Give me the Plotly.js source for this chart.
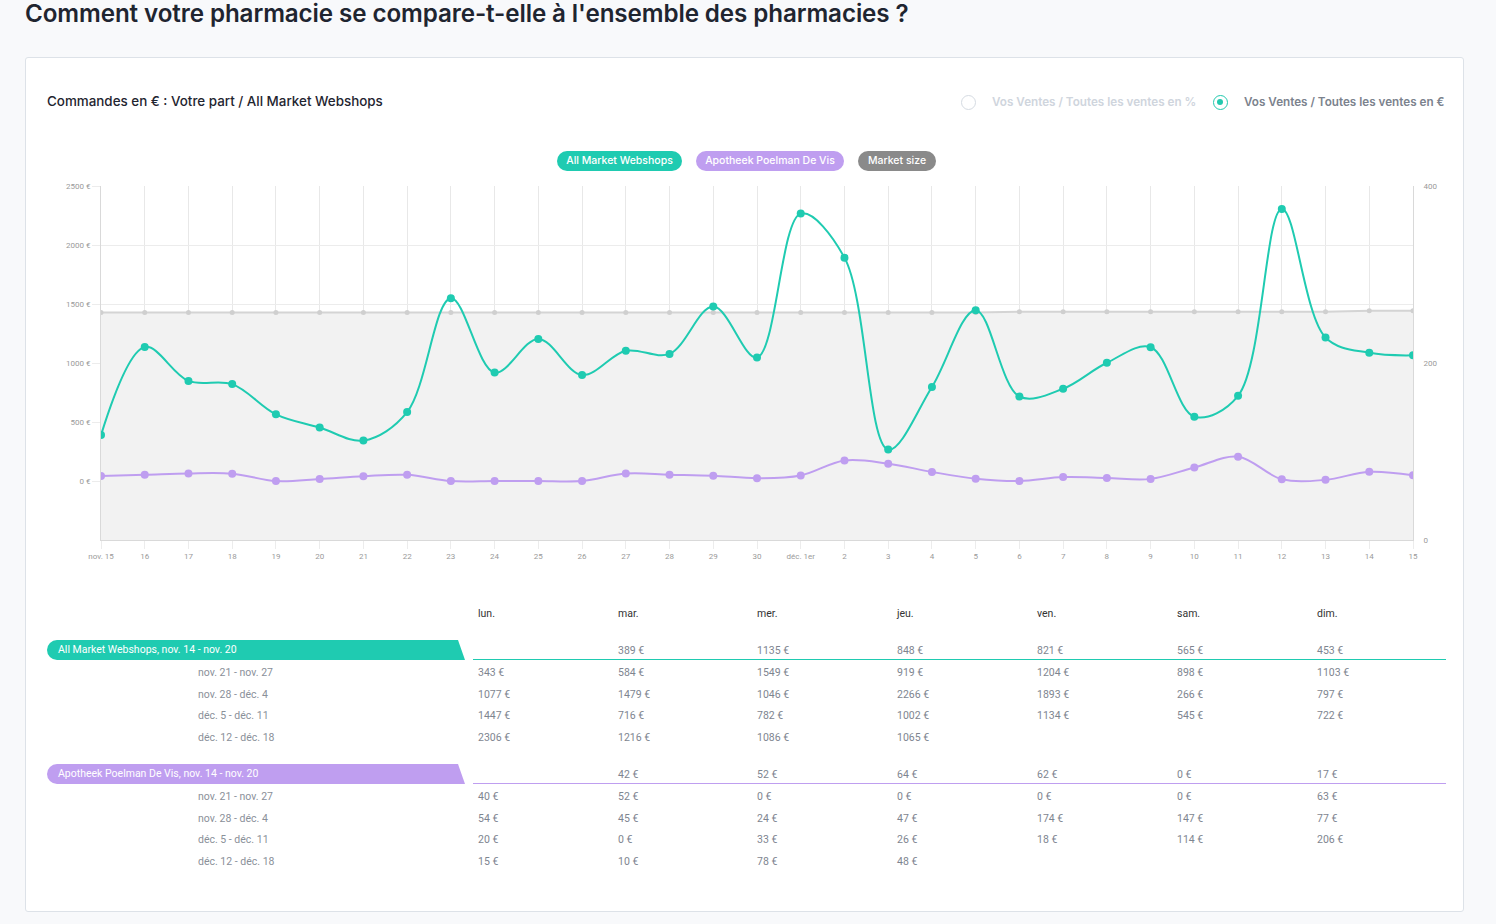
<!DOCTYPE html>
<html>
<head>
<meta charset="utf-8">
<script src="https://cdn.plot.ly/plotly-3.0.1.min.js"></script>
<style>
  html, body { margin:0; padding:0; }
  body { width:1496px; height:924px; background:#f8f9fb; position:relative; overflow:hidden; font-family:Inter, "Noto Sans", sans-serif; }
  #title { position:absolute; left:25px; top:-1px; font-size:24.2px; font-weight:600; color:#1f2530; letter-spacing:-0.1px; white-space:nowrap; }
  #card { position:absolute; left:25px; top:57px; width:1439px; height:855px; background:#fff; border:1px solid #dde2e8; border-radius:3px; box-sizing:border-box; }
  #subtitle { position:absolute; left:47px; top:93px; font-size:13.4px; font-weight:500; color:#1f2530; white-space:nowrap; }
  .radio { position:absolute; top:94px; height:16px; display:flex; align-items:center; font-size:11.7px; font-weight:600; white-space:nowrap; }
  .radio .c { width:15px; height:15px; border-radius:50%; box-sizing:border-box; margin-right:16px; position:relative; }
  .pill { position:absolute; top:151px; height:20px; line-height:20px; border-radius:10px; color:#fff; font-size:10.5px; font-weight:500; text-align:center; white-space:nowrap; }
  #chart { position:absolute; left:0; top:0; width:1496px; height:580px; }
  .tbl { position:absolute; font-family:Roboto, sans-serif; font-size:10.5px; white-space:nowrap; }
  .hdr { color:#333; }
  .val { color:#7e8590; }
  .lab { color:#8a9099; }
  .banner { position:absolute; height:20px; line-height:20px; color:#fff; font-family:Roboto, sans-serif; font-size:10.5px; padding-left:11px; box-sizing:border-box; border-radius:10px 0 0 10px; clip-path:polygon(0 0, 411px 0, 418px 100%, 0 100%); white-space:nowrap; }
  .uline { position:absolute; height:1.5px; }
</style>
</head>
<body>
<div id="title">Comment votre pharmacie se compare-t-elle à l'ensemble des pharmacies ?</div>
<div id="card"></div>
<div id="subtitle">Commandes en € : Votre part / All Market Webshops</div>
<div class="radio" style="left:961px;color:#cfd5dd;"><div class="c" style="border:1px solid #d5dbe2;"></div>Vos Ventes / Toutes les ventes en %</div>
<div class="radio" style="left:1213px;color:#7b828d;"><div class="c" style="border:1.5px solid #22c9ae;"><div style="position:absolute;left:3px;top:3px;width:6px;height:6px;border-radius:50%;background:#22c9ae;"></div></div>Vos Ventes / Toutes les ventes en €</div>
<div class="pill" style="left:557px;width:125px;background:#1fcbb1;">All Market Webshops</div>
<div class="pill" style="left:696px;width:148px;background:#bf9ef0;">Apotheek Poelman De Vis</div>
<div class="pill" style="left:858px;width:78px;background:#8a8a8a;">Market size</div>
<div id="chart"></div>
<div id="table"></div>
<script>
// ---------- DATA ----------
const days = ["nov. 15","16","17","18","19","20","21","22","23","24","25","26","27","28","29","30",
              "déc. 1er","2","3","4","5","6","7","8","9","10","11","12","13","14","15"];
const allMarket = [389,1135,848,821,565,453,343,584,1549,919,1204,898,1103,1077,1479,1046,
                   2266,1893,266,797,1447,716,782,1002,1134,545,722,2306,1216,1086,1065];
const apotheek = [42,52,64,62,0,17,40,52,0,0,0,0,63,54,45,24,
                  47,174,147,77,20,0,33,26,18,114,206,15,10,78,48];
const marketSize = [257,257,257,257,257,257,257,257,257,257,257,257,257,257,257,257,
                    257,257,257,257,257,258,258,258,258,258,258,258,258,259,259];
const leftTicks = [0,500,1000,1500,2000,2500];
const rightTicks = [0,200,400];
const weekDays = ["lun.","mar.","mer.","jeu.","ven.","sam.","dim."];
const weekLabels = ["nov. 14 - nov. 20","nov. 21 - nov. 27","nov. 28 - déc. 4","déc. 5 - déc. 11","déc. 12 - déc. 18"];
const seriesNames = ["All Market Webshops","Apotheek Poelman De Vis","Market size"];

// ---------- CHART ----------
const TEAL = "#1fcbb1", PURPLE = "#bf9ef0", GREY = "#d4d4d4";
// market size sits on the base (right-hand) axis so its fill stays underneath the € series
const traces = [
  { x: days, y: marketSize, yaxis: "y", name: seriesNames[2], type: "scatter", mode: "lines+markers",
    line: {color: GREY, width: 2}, marker: {color: "#cfcfcf", size: 5},
    fill: "tozeroy", fillcolor: "#f2f2f2", hoverinfo: "skip" },
  { x: days, y: apotheek, yaxis: "y2", name: seriesNames[1], type: "scatter", mode: "lines+markers",
    line: {color: PURPLE, width: 2, shape: "spline", smoothing: 1}, marker: {color: PURPLE, size: 8}, hoverinfo: "skip" },
  { x: days, y: allMarket, yaxis: "y2", name: seriesNames[0], type: "scatter", mode: "lines+markers",
    line: {color: TEAL, width: 2, shape: "spline", smoothing: 1}, marker: {color: TEAL, size: 8}, hoverinfo: "skip" }
];
const tickFont = {family: "Roboto, sans-serif", size: 8, color: "#9a9a9a"};
const layout = {
  width: 1496, height: 580,
  margin: {l: 101, r: 83, t: 186, b: 40},
  paper_bgcolor: "rgba(0,0,0,0)", plot_bgcolor: "rgba(0,0,0,0)",
  showlegend: false,
  xaxis: { type: "category", range: [0, 30], showgrid: true, gridcolor: "#e8e8e8", gridwidth: 1,
           showline: true, linecolor: "#d9d9d9", linewidth: 1, ticks: "outside", ticklen: 8, tickcolor: "#ececec",
           tickfont: tickFont, fixedrange: true, zeroline: false, layer: "above traces" },
  yaxis: { range: [0, 400], tickvals: rightTicks, ticktext: rightTicks.map(String), side: "right",
           showgrid: false, zeroline: false, showline: true, linecolor: "#d9d9d9", ticks: "outside", ticklen: 8,
           tickcolor: "rgba(0,0,0,0)", tickfont: tickFont, fixedrange: true },
  yaxis2: { range: [-500, 2500], tickvals: leftTicks, ticktext: leftTicks.map(v => v + " €"),
            overlaying: "y", side: "left",
            showgrid: true, gridcolor: "#ececec", zeroline: false, showline: true, linecolor: "#d9d9d9",
            ticks: "outside", ticklen: 8, tickcolor: "#ececec", tickfont: tickFont, fixedrange: true }
};
Plotly.newPlot("chart", traces, layout, {staticPlot: true, displayModeBar: false});

// ---------- TABLE (built from the arrays) ----------
const T = document.getElementById("table");
function add(cls, text, x, y) {
  const d = document.createElement("div");
  d.className = cls; d.textContent = text;
  d.style.left = x + "px"; d.style.top = y + "px";
  T.appendChild(d); return d;
}
const colX = [478, 618, 757, 897, 1037, 1177, 1317];
weekDays.forEach((w, i) => add("tbl hdr", w, colX[i], 607));
function cellValue(series, week, dayIdx) {
  const k = week * 7 + dayIdx - 1; // series starts on Tuesday nov. 15
  if (k < 0 || k >= series.length) return "";
  return series[k] + " €";
}
function section(series, name, color, top) {
  const b = document.createElement("div");
  b.className = "banner"; b.textContent = name + ", " + weekLabels[0];
  b.style.left = "47px"; b.style.top = top + "px"; b.style.width = "420px"; b.style.background = color;
  T.appendChild(b);
  const u = document.createElement("div");
  u.className = "uline"; u.style.left = "473px"; u.style.top = (top + 18.5) + "px"; u.style.width = "973px"; u.style.background = color;
  T.appendChild(u);
  const rowY = [top + 4, top + 26, top + 48, top + 69, top + 91];
  weekLabels.forEach((lab, w) => {
    if (w > 0) add("tbl lab", lab, 198, rowY[w]);
    for (let d = 0; d < 7; d++) {
      const v = cellValue(series, w, d);
      if (v) add("tbl val", v, colX[d], rowY[w]);
    }
  });
}
section(allMarket, seriesNames[0], TEAL, 640);
section(apotheek, seriesNames[1], PURPLE, 764);
</script>
</body>
</html>
